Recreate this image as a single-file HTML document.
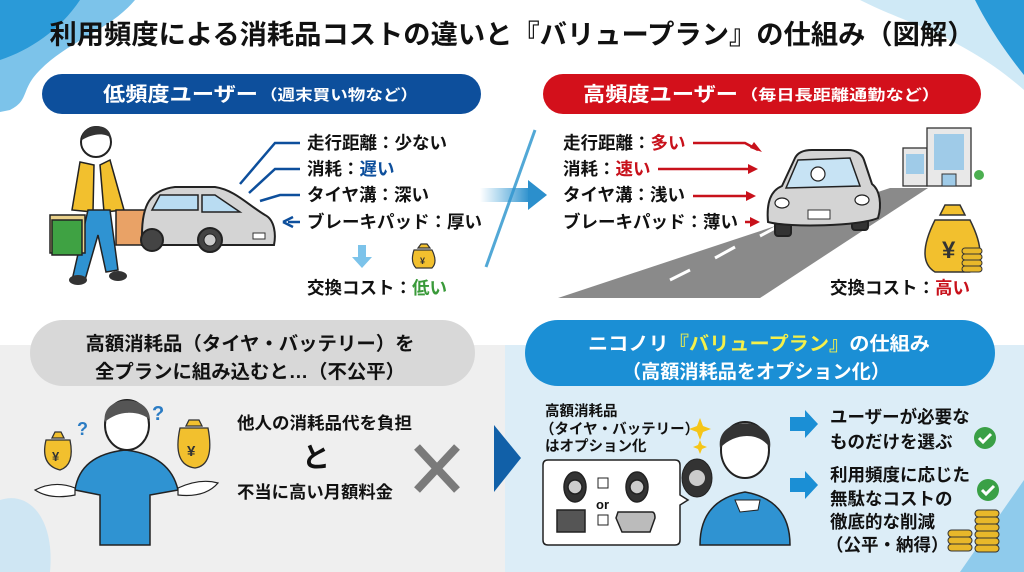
<!DOCTYPE html>
<html><head><meta charset="utf-8"><style>
html,body{margin:0;padding:0;background:#fff;}
svg{display:block;}
text{font-family:"Liberation Sans","Noto Sans CJK JP",sans-serif;font-weight:700;}
</style></head><body>
<svg width="1024" height="572" viewBox="0 0 1024 572" xmlns="http://www.w3.org/2000/svg">
<defs>
<linearGradient id="ag" x1="0" x2="1"><stop offset="0" stop-color="#3aa0d8" stop-opacity="0"/><stop offset="1" stop-color="#2b8fcc"/></linearGradient>
</defs>
<rect width="1024" height="572" fill="#fff"/>
<!-- corner blobs -->
<path d="M0 0 H135 C110 30 70 40 40 70 C20 90 30 100 10 110 L0 112 Z" fill="#7cc3ea"/>
<path d="M0 0 H80 C60 30 30 50 0 60 Z" fill="#2a9ad8"/>
<path d="M1024 0 V90 C990 60 960 45 930 30 C900 18 880 10 860 0 Z" fill="#cfe9f6"/>
<path d="M1024 0 V75 C1000 45 985 20 975 0 Z" fill="#2a9ad8"/>
<!-- bottom sections -->
<rect x="0" y="345" width="505" height="227" fill="#efefef"/>
<path d="M0 500 C30 490 55 520 50 572 H0 Z" fill="#cfe6f3"/>
<rect x="505" y="345" width="519" height="227" fill="#dcedf7"/>
<path d="M1024 480 L960 572 H1024 Z" fill="#8fcbec"/>
<polygon points="494,425 521,458 494,492" fill="#1160a8"/>
<!-- title -->
<text x="512" y="44" font-size="27" text-anchor="middle" fill="#111" textLength="925" lengthAdjust="spacingAndGlyphs">利用頻度による消耗品コストの違いと『バリュープラン』の仕組み（図解）</text>
<!-- pills -->
<rect x="42" y="74" width="439" height="40" rx="20" fill="#0d4f9c"/>
<text x="103" y="101" font-size="20" fill="#fff" textLength="155" lengthAdjust="spacingAndGlyphs">低頻度ユーザー</text>
<text x="260" y="100" font-size="15" fill="#fff" textLength="158" lengthAdjust="spacingAndGlyphs">（週末買い物など）</text>
<rect x="543" y="74" width="438" height="40" rx="20" fill="#d3101b"/>
<text x="583" y="101" font-size="20" fill="#fff" textLength="155" lengthAdjust="spacingAndGlyphs">高頻度ユーザー</text>
<text x="740" y="100" font-size="15" fill="#fff" textLength="200" lengthAdjust="spacingAndGlyphs">（毎日長距離通勤など）</text>
<!-- left person -->
<g>
<circle cx="96" cy="142" r="15" fill="#fff" stroke="#222" stroke-width="2"/>
<path d="M82 140 C80 124 110 120 111 138 C104 132 92 134 82 140Z" fill="#333"/>
<path d="M80 162 L110 162 L125 210 L85 212 Z" fill="#fff"/>
<path d="M80 162 L94 165 L93 212 L72 210 Z M110 160 L100 165 L104 212 L124 210 Z" fill="#f2c02e" stroke="#222" stroke-width="1.5"/>
<path d="M88 210 L110 210 L118 270 L106 272 L98 235 L85 280 L73 276 Z" fill="#2f93d2" stroke="#222" stroke-width="1.5"/>
<rect x="50" y="215" width="35" height="38" fill="#e9d08a" stroke="#222" stroke-width="1.5"/>
<rect x="52" y="220" width="30" height="35" fill="#3fa243" stroke="#222" stroke-width="1.5"/>
<rect x="116" y="210" width="30" height="35" fill="#e9a266" stroke="#222" stroke-width="1.5"/>
<ellipse cx="78" cy="280" rx="9" ry="5" fill="#333"/><ellipse cx="118" cy="276" rx="9" ry="5" fill="#333"/>
</g>
<!-- left car -->
<g stroke="#222" stroke-width="2">
<path d="M142 235 C142 205 150 190 175 187 L215 187 C235 190 248 205 265 215 C275 220 276 235 274 245 L142 245 Z" fill="#d4d4d4"/>
<path d="M152 210 L160 195 L198 195 L198 210 Z M202 195 L215 195 L240 212 L202 212 Z" fill="#b9dcf2" stroke-width="1.5"/>
<circle cx="152" cy="240" r="11" fill="#444"/><circle cx="210" cy="240" r="12" fill="#444"/>
<circle cx="210" cy="240" r="6" fill="#ccc" stroke-width="1"/>
</g>
<rect x="253" y="233" width="12" height="6" fill="#fff" stroke="#333"/>
<!-- left lines -->
<g stroke="#0d4f9c" stroke-width="2.5" fill="none">
<path d="M240 184 L275 143 H300"/><path d="M249 193 L275 169 H300"/><path d="M260 201 L280 195 H300"/>
<path d="M288 222 H300"/><path d="M283 222 L293 217 M283 222 L293 227"/>
</g>
<g font-size="17.5" fill="#111">
<text x="307" y="149">走行距離：少ない</text>
<text x="307" y="175">消耗：<tspan fill="#0d4f9c">遅い</tspan></text>
<text x="307" y="201">タイヤ溝：深い</text>
<text x="307" y="228">ブレーキパッド：厚い</text>
<text x="307" y="294">交換コスト：<tspan fill="#3a9a3a">低い</tspan></text>
</g>
<path d="M358 245 V257 H352 L362 268 L372 257 H366 V245 Z" fill="#7cc3ea"/>
<path d="M414 250 Q410 262 416 268 H432 Q438 262 432 250 Z M418 248 H430 L427 244 H421 Z" fill="#f2c02e" stroke="#333" stroke-width="1.2"/>
<text x="420" y="264" font-size="9" fill="#333">¥</text>
<!-- middle arrow -->
<line x1="535" y1="130" x2="486" y2="267" stroke="#52a8d6" stroke-width="3"/>
<rect x="480" y="188" width="50" height="14" fill="url(#ag)"/>
<polygon points="528,180 547,195 528,210" fill="#2b8fcc"/>
<!-- right list -->
<g font-size="17.5" fill="#111">
<text x="563" y="149">走行距離：<tspan fill="#c8111b">多い</tspan></text>
<text x="563" y="175">消耗：<tspan fill="#c8111b">速い</tspan></text>
<text x="563" y="201">タイヤ溝：浅い</text>
<text x="563" y="228">ブレーキパッド：薄い</text>
<text x="830" y="294">交換コスト：<tspan fill="#c8111b">高い</tspan></text>
</g>
<g stroke="#c8111b" stroke-width="2.5" fill="none">
<path d="M693 143 H745 L758 150"/><path d="M658 169 H752"/><path d="M693 196 H750"/><path d="M745 222 H755"/>
</g>
<g fill="#c8111b"><polygon points="762,152 750,148 754,142"/><polygon points="758,169 748,164 748,174"/><polygon points="756,196 746,191 746,201"/><polygon points="760,222 750,217 750,227"/></g>
<!-- road -->
<polygon points="558,298 760,298 928,188 890,188" fill="#8a8a8a"/>
<g stroke="#fff" stroke-width="3"><line x1="670" y1="280" x2="690" y2="270"/><line x1="715" y1="258" x2="735" y2="247"/><line x1="760" y1="236" x2="775" y2="228"/><line x1="850" y1="208" x2="860" y2="203"/></g>
<!-- building -->
<rect x="903" y="148" width="24" height="38" fill="#e8e8e8" stroke="#333" stroke-width="1.3"/>
<rect x="927" y="128" width="44" height="58" fill="#e8e8e8" stroke="#333" stroke-width="1.3"/>
<g fill="#9fcbe8"><rect x="934" y="134" width="30" height="36"/><rect x="906" y="154" width="18" height="20"/></g>
<rect x="942" y="174" width="14" height="12" fill="#9fcbe8" stroke="#333"/>
<circle cx="979" cy="175" r="5" fill="#4caf50"/>
<!-- right car -->
<g stroke="#222" stroke-width="2">
<rect x="775" y="222" width="16" height="14" rx="3" fill="#333"/><rect x="852" y="216" width="16" height="14" rx="3" fill="#333"/>
<path d="M768 222 C766 200 772 190 782 186 L795 158 C798 152 805 150 812 150 L848 150 C856 150 862 154 864 160 L872 184 C880 190 882 205 878 218 C860 226 790 228 768 222 Z" fill="#d4d4d4"/>
<path d="M786 188 L798 160 L850 158 L860 186 Z" fill="#c7e3f4" stroke-width="1.5"/>
<circle cx="818" cy="174" r="7" fill="#fff" stroke-width="1.2"/>
<ellipse cx="782" cy="203" rx="7" ry="5" fill="#fff" stroke-width="1.2"/><ellipse cx="862" cy="200" rx="7" ry="5" fill="#fff" stroke-width="1.2"/>
</g>
<rect x="808" y="210" width="22" height="9" fill="#fff" stroke="#333"/>
<!-- big money bag -->
<path d="M935 220 Q915 260 935 272 H970 Q990 260 970 220 Z M940 215 H965 L960 205 H945 Z" fill="#f2c02e" stroke="#333" stroke-width="1.5"/>
<text x="942" y="258" font-size="24" fill="#333">¥</text>
<g fill="#e8b82a" stroke="#333" stroke-width="1"><rect x="962" y="248" width="20" height="6" rx="3"/><rect x="962" y="254" width="20" height="6" rx="3"/><rect x="962" y="260" width="20" height="6" rx="3"/><rect x="962" y="266" width="20" height="6" rx="3"/></g>
<!-- bottom pills -->
<rect x="30" y="320" width="445" height="66" rx="33" fill="#d8d8d8"/>
<text x="250" y="350" font-size="19" text-anchor="middle" fill="#111" textLength="329" lengthAdjust="spacingAndGlyphs">高額消耗品（タイヤ・バッテリー）を</text>
<text x="250" y="378" font-size="19" text-anchor="middle" fill="#111" textLength="310" lengthAdjust="spacingAndGlyphs">全プランに組み込むと…（不公平）</text>
<rect x="525" y="320" width="470" height="66" rx="33" fill="#1b8fd5"/>
<text x="759" y="350" font-size="19" text-anchor="middle" fill="#fff" textLength="342" lengthAdjust="spacingAndGlyphs">ニコノリ<tspan fill="#f5f04a">『バリュープラン』</tspan>の仕組み</text>
<text x="756" y="378" font-size="19" text-anchor="middle" fill="#fff" textLength="268" lengthAdjust="spacingAndGlyphs">（高額消耗品をオプション化）</text>
<!-- bottom-left person -->
<g>
<path d="M75 490 Q80 455 125 450 Q170 455 178 490 L150 495 L150 545 L100 545 L100 495 Z" fill="#2f93d2" stroke="#222" stroke-width="1.5"/>
<ellipse cx="127" cy="425" rx="22" ry="25" fill="#fff" stroke="#222" stroke-width="2"/>
<path d="M105 422 C100 395 150 392 150 420 C140 410 118 410 105 422Z" fill="#555"/>
<path d="M35 490 Q55 480 75 488 L75 495 Q50 500 35 490Z M218 483 Q200 478 178 488 L178 495 Q205 498 218 483Z" fill="#fff" stroke="#222" stroke-width="1.2"/>
<path d="M46 440 Q40 465 60 470 Q75 465 70 440 Z M52 438 H64 L61 432 H55Z" fill="#f2c02e" stroke="#333" stroke-width="1.3"/>
<text x="52" y="461" font-size="13" fill="#333">¥</text>
<path d="M180 428 Q172 465 195 468 Q215 465 208 428 Z M186 426 H202 L199 420 H189Z" fill="#f2c02e" stroke="#333" stroke-width="1.3"/>
<text x="187" y="456" font-size="15" fill="#333">¥</text>
<text x="77" y="435" font-size="18" fill="#2b7cc4">?</text>
<text x="152" y="420" font-size="20" fill="#2b7cc4">?</text>
</g>
<text x="237" y="429" font-size="17" fill="#111" textLength="175" lengthAdjust="spacingAndGlyphs">他人の消耗品代を負担</text>
<text x="302" y="467" font-size="28" fill="#111">と</text>
<text x="237" y="498" font-size="17" fill="#111" textLength="156" lengthAdjust="spacingAndGlyphs">不当に高い月額料金</text>
<g stroke="#7a7a7a" stroke-width="8"><line x1="417" y1="447" x2="457" y2="490"/><line x1="457" y1="447" x2="417" y2="490"/></g>
<!-- bottom-right -->
<g font-size="14.5" fill="#111">
<text x="545" y="416">高額消耗品</text>
<text x="540" y="434">（タイヤ・バッテリー）</text>
<text x="545" y="451">はオプション化</text>
</g>
<path d="M700 418 l3 8 8 3 -8 3 -3 8 -3 -8 -8 -3 8 -3z" fill="#f5c518"/>
<path d="M700 440 l2 5 5 2 -5 2 -2 5 -2 -5 -5 -2 5 -2z" fill="#f5c518"/>
<path d="M548 460 H675 Q680 460 680 465 V495 L688 500 L680 505 V540 Q680 545 675 545 H548 Q543 545 543 540 V465 Q543 460 548 460Z" fill="#fff" stroke="#222" stroke-width="1.5"/>
<g stroke="#222" stroke-width="1.5">
<ellipse cx="575" cy="487" rx="11" ry="15" fill="#333"/><circle cx="575" cy="487" r="7" fill="#ccc"/>
<ellipse cx="637" cy="487" rx="11" ry="15" fill="#333"/><circle cx="637" cy="487" r="7" fill="#ccc"/>
<rect x="598" y="478" width="10" height="10" fill="#fff" stroke-width="1"/>
<rect x="598" y="515" width="10" height="10" fill="#fff" stroke-width="1"/>
<rect x="557" y="510" width="28" height="22" fill="#555"/>
<path d="M618 512 H652 Q655 512 655 518 L650 532 H622 L616 518Z" fill="#bbb"/>
</g>
<text x="596" y="509" font-size="13" fill="#111">or</text>
<g>
<path d="M700 545 Q700 500 745 492 Q790 500 790 545 Z" fill="#2f93d2" stroke="#222" stroke-width="1.5"/>
<ellipse cx="745" cy="450" rx="24" ry="28" fill="#fff" stroke="#222" stroke-width="2"/>
<path d="M720 448 C715 415 775 415 770 448 C760 432 735 432 720 448Z" fill="#333"/>
<ellipse cx="697" cy="478" rx="15" ry="19" fill="#333" stroke="#222"/><circle cx="697" cy="478" r="8" fill="#ccc"/>
<path d="M735 500 L760 500 L758 510 L740 512Z" fill="#fff" stroke="#222"/>
</g>
<g fill="#1b8fd5"><polygon points="790,417 805,417 805,410 818,424 805,438 805,431 790,431"/><polygon points="790,478 805,478 805,471 818,485 805,499 805,492 790,492"/></g>
<g font-size="17.5" fill="#111">
<text x="830" y="423">ユーザーが必要な</text>
<text x="830" y="448">ものだけを選ぶ</text>
<text x="830" y="481">利用頻度に応じた</text>
<text x="830" y="505">無駄なコストの</text>
<text x="830" y="528">徹底的な削減</text>
<text x="826" y="551">（公平・納得）</text>
</g>
<circle cx="985" cy="438" r="11" fill="#3aa046"/><path d="M979 438 l4 4 8 -8" stroke="#fff" stroke-width="3" fill="none"/>
<circle cx="988" cy="490" r="11" fill="#3aa046"/><path d="M982 490 l4 4 8 -8" stroke="#fff" stroke-width="3" fill="none"/>
<g fill="#e8b82a" stroke="#333" stroke-width="1"><rect x="948" y="530" width="24" height="7" rx="3.5"/><rect x="948" y="537" width="24" height="7" rx="3.5"/><rect x="948" y="544" width="24" height="7" rx="3.5"/>
<rect x="975" y="510" width="24" height="7" rx="3.5"/><rect x="975" y="517" width="24" height="7" rx="3.5"/><rect x="975" y="524" width="24" height="7" rx="3.5"/><rect x="975" y="531" width="24" height="7" rx="3.5"/><rect x="975" y="538" width="24" height="7" rx="3.5"/><rect x="975" y="545" width="24" height="7" rx="3.5"/></g>
</svg>
</body></html>
